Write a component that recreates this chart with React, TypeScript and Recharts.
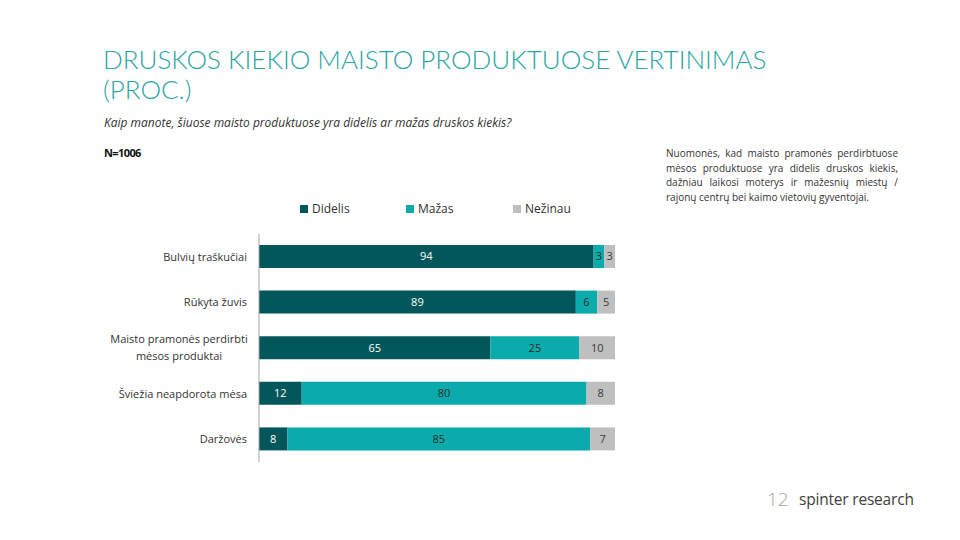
import { Bar, BarChart, LabelList, XAxis, YAxis } from "recharts";

const categories = [
  "Bulvių traškučiai",
  "Rūkyta žuvis",
  "Maisto pramonės perdirbti|mėsos produktai",
  "Šviežia neapdorota mėsa",
  "Daržovės",
];
const didelis = [94, 89, 65, 12, 8];
const mazas = [3, 6, 25, 80, 85];
const nezinau = [3, 5, 10, 8, 7];

const seriesNames = ["Didelis", "Mažas", "Nežinau"];
const colors = ["#03575B", "#0BABAC", "#BFBFBF"];
const labelColors = ["#ffffff", "#2b2b2b", "#3a3a3a"];

const noteLines = [
  "Nuomonės, kad maisto pramonės perdirbtuose",
  "mėsos produktuose yra didelis druskos kiekis,",
  "dažniau laikosi moterys ir mažesnių miestų /",
  "rajonų centrų bei kaimo vietovių gyventojai.",
];

const data = categories.map((name, i) => ({
  name,
  didelis: didelis[i],
  mazas: mazas[i],
  nezinau: nezinau[i],
}));

const font = "'Open Sans', 'Noto Sans', sans-serif";
const lightFont = "Lato, 'Open Sans', sans-serif";

function CategoryTick({ x, y, payload }: any) {
  const lines = String(payload.value).split("|");
  if (lines.length === 1) {
    return (
      <text x={x - 4} y={y} dy={4} textAnchor="end" fontSize={11} fill="#333" fontFamily={font}>
        {lines[0]}
      </text>
    );
  }
  return (
    <text x={x - 72} y={y} textAnchor="middle" fontSize={11} fill="#333" fontFamily={font}>
      {lines.map((l: string, k: number) => (
        <tspan key={k} x={x - 72} dy={k === 0 ? -5 : 17}>
          {l}
        </tspan>
      ))}
    </text>
  );
}

export default function App() {
  const keys = ["didelis", "mazas", "nezinau"];
  const legendX = [300, 406, 513];
  return (
    <div style={{ position: "absolute", left: 0, top: 0, width: 960, height: 540, background: "#fff", fontFamily: font }}>
      <div style={{ position: "absolute", left: 103, top: 44, fontSize: 26, lineHeight: "30px", color: "#2BA5A5", fontWeight: 300, fontFamily: lightFont, whiteSpace: "nowrap" }}>
        DRUSKOS KIEKIO MAISTO PRODUKTUOSE VERTINIMAS
      </div>
      <div style={{ position: "absolute", left: 103, top: 74, fontSize: 26, lineHeight: "30px", color: "#2BA5A5", fontWeight: 300, fontFamily: lightFont }}>
        (PROC.)
      </div>
      <div style={{ position: "absolute", left: 104, top: 114, fontSize: 12, fontStyle: "italic", color: "#333" }}>
        Kaip manote, šiuose maisto produktuose yra didelis ar mažas druskos kiekis?
      </div>
      <div style={{ position: "absolute", left: 104, top: 145, fontSize: 11, fontWeight: 700, color: "#111", letterSpacing: -0.6 }}>
        N=1006
      </div>
      <div style={{ position: "absolute", left: 666, top: 146, width: 232, fontSize: 10, lineHeight: "14.5px", color: "#333" }}>
        {noteLines.map((l, i) => (
          <div key={i} style={{ textAlign: "justify", textAlignLast: (i < noteLines.length - 1 ? "justify" : "left") as any, whiteSpace: "nowrap" }}>
            {l}
          </div>
        ))}
      </div>
      {seriesNames.map((n, i) => (
        <div key={n} style={{ position: "absolute", left: legendX[i], top: 200, fontSize: 12, color: "#333", display: "flex", alignItems: "center" }}>
          <span style={{ display: "inline-block", width: 8, height: 8, background: colors[i], marginRight: 4 }} />
          {n}
        </div>
      ))}
      <div style={{ position: "absolute", left: 0, top: 0 }}>
        <BarChart
          width={960}
          height={540}
          data={data}
          layout="vertical"
          barSize={23}
          margin={{ top: 234, right: 345, bottom: 78, left: 109 }}
        >
          <XAxis type="number" domain={[0, 100]} hide />
          <YAxis
            type="category"
            dataKey="name"
            width={150}
            axisLine={{ stroke: "#A6A6A6" }}
            tickLine={false}
            tick={<CategoryTick />}
            interval={0}
          />
          {keys.map((k, i) => (
            <Bar key={k} dataKey={k} stackId="a" fill={colors[i]} isAnimationActive={false}>
              <LabelList dataKey={k} position="center" fill={labelColors[i]} fontSize={11} fontFamily={font} />
            </Bar>
          ))}
        </BarChart>
      </div>
      <div style={{ position: "absolute", left: 767, top: 486, fontSize: 19, color: "#A6A6A6", fontWeight: 300 }}>12</div>
      <div style={{ position: "absolute", left: 799, top: 488, fontSize: 15.5, color: "#404040", fontWeight: 400, letterSpacing: -0.2 }}>
        spinter research
      </div>
    </div>
  );
}
